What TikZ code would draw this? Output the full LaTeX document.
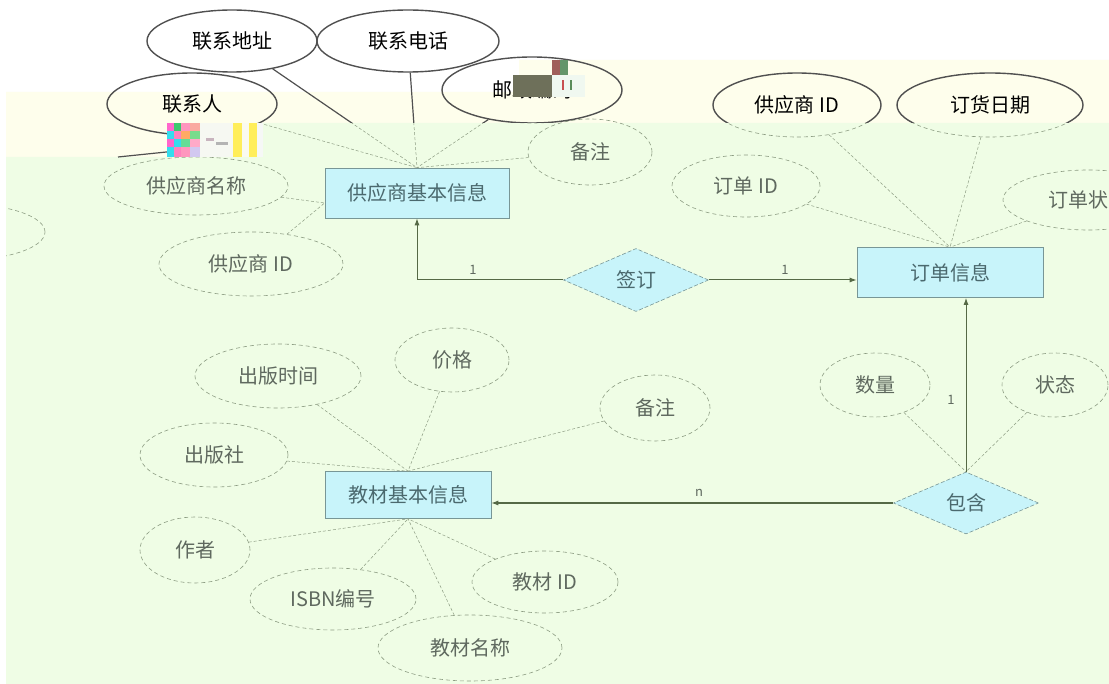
\documentclass[tikz,border=0pt]{standalone}
\usepackage{fontspec}
\newfontfamily\cjk{Noto Sans CJK SC}
\usetikzlibrary{shapes.geometric,arrows.meta}
\definecolor{creambg}{RGB}{254,254,236}
\definecolor{greenbg}{RGB}{239,253,229}
\definecolor{boxfill}{RGB}{200,244,250}
\definecolor{boxline}{RGB}{120,150,150}
\definecolor{faintline}{RGB}{140,156,130}
\definecolor{fainttext}{RGB}{95,105,95}
\definecolor{boxtext}{RGB}{75,105,110}
\definecolor{relline}{RGB}{85,105,70}
\definecolor{solidline}{RGB}{80,80,80}
\newcommand\drawtopparts{%
  \node[topell, minimum width=170pt, minimum height=62pt] (lxdz) at (232,41) {联系地址};
  \node[topell, minimum width=182pt, minimum height=62pt] (lxdh) at (408,41) {联系电话};
  \node[topell, minimum width=170pt, minimum height=62pt] (lxr) at (192,104) {联系人};
  \node[topell, minimum width=180pt, minimum height=66pt] (yb) at (532,90) {邮政编码};
  \node[topell, minimum width=168pt, minimum height=64pt] (gidb) at (797,105) {供应商 ID};
  \node[topell, minimum width=186pt, minimum height=64pt] (dhrq) at (990,105) {订货日期};
  \draw[topline] (lxdz) -- (sup.north);
  \draw[topline] (lxdh) -- (sup.north);
  \draw[topline] (lxr) -- (sup.north);
  \draw[topline] (yb) -- (sup.north);
  \draw[topline] (gidb) -- (ord.north);
  \draw[topline] (dhrq) -- (ord.north);
}
\begin{document}
\begin{tikzpicture}[x=1pt,y=-1pt,
  txt/.style={font=\cjk\fontsize{20}{24}\selectfont},
  attr/.style={ellipse, draw=faintline, line width=0.6pt, dash pattern=on 4pt off 3pt, inner sep=0pt, txt, text=fainttext},
  solidell/.style={ellipse, draw=solidline, line width=1.4pt, inner sep=0pt, txt, text=black},
  entity/.style={rectangle, draw=boxline, fill=boxfill, line width=0.7pt, inner sep=0pt, txt, text=boxtext},
  rel/.style={diamond, draw=boxline, fill=boxfill, line width=0.6pt, dash pattern=on 4pt off 2pt, inner sep=0pt, aspect=2.3, txt, text=boxtext},
  alink/.style={draw=faintline, line width=0.5pt, dash pattern=on 3pt off 2pt},
  slink/.style={draw=solidline, line width=1.2pt},
  rlink/.style={draw=relline, line width=1pt},
  tip/.style={-{Latex[length=7pt,width=5pt]}},
  card/.style={font=\cjk\fontsize{13}{15}\selectfont, text=fainttext, inner sep=1pt},
]
\useasboundingbox (0,0) rectangle (1109,684);
% backgrounds
\fill[white] (0,0) rectangle (1109,684);
\fill[creambg] (6,92) -- (519,92) -- (519,60) -- (1109,60) -- (1109,123) -- (262,123) -- (262,157) -- (6,157) -- cycle;
\fill[greenbg] (6,157) -- (262,157) -- (262,123) -- (1109,123) -- (1109,684) -- (6,684) -- cycle;

% entities and relationships
\node[entity, minimum width=184pt, minimum height=50pt] (sup) at (417,193) {供应商基本信息};
\node[entity, minimum width=186pt, minimum height=50pt] (ord) at (950,272.5) {订单信息};
\node[entity, minimum width=166pt, minimum height=47pt] (book) at (408,495) {教材基本信息};
\node[rel, minimum width=145pt, minimum height=63pt] (qd) at (636,280) {签订};
\node[rel, minimum width=145pt, minimum height=62pt] (bh) at (966,503) {包含};

% attributes (faint)
\begin{scope}
\clip (6,0) rectangle (1109,684);
\node[attr, minimum width=124pt, minimum height=66pt] (bza) at (590,152) {备注};
\node[attr, minimum width=184pt, minimum height=58pt] (gysmc) at (196,186) {供应商名称};
\node[attr, minimum width=184pt, minimum height=64pt] (gysid) at (251,264) {供应商 ID};
\node[attr, minimum width=164pt, minimum height=56pt] (leftell) at (-37,232) {};
\node[attr, minimum width=148pt, minimum height=62pt] (ddid) at (746,186) {订单 ID};
\node[attr, minimum width=170pt, minimum height=60pt] (ddzt) at (1088,200) {订单状态};
\node[attr, minimum width=110pt, minimum height=64pt] (sl) at (875,385) {数量};
\node[attr, minimum width=106pt, minimum height=64pt] (zt) at (1055,385) {状态};
\node[attr, minimum width=166pt, minimum height=64pt] (cbsj) at (278,376) {出版时间};
\node[attr, minimum width=114pt, minimum height=64pt] (jg) at (452,360) {价格};
\node[attr, minimum width=110pt, minimum height=66pt] (bzb) at (655,408) {备注};
\node[attr, minimum width=148pt, minimum height=64pt] (cbs) at (214,455) {出版社};
\node[attr, minimum width=110pt, minimum height=66pt] (zz) at (195,550) {作者};
\node[attr, minimum width=166pt, minimum height=62pt] (isbn) at (333,599) {ISBN编号};
\node[attr, minimum width=184pt, minimum height=66pt] (jcmc) at (470,648) {教材名称};
\node[attr, minimum width=146pt, minimum height=62pt] (jcid) at (545,582) {教材 ID};
\end{scope}

% attribute links
\draw[alink] (bza) -- (sup.north);
\draw[alink] (gysmc) -- ([yshift=-10pt]sup.west);
\draw[alink] (gysid) -- ([yshift=-10pt]sup.west);
\draw[alink] (ddid) -- (ord.north);
\draw[alink] (ddzt) -- (ord.north);
\draw[alink] (sl) -- (bh.north);
\draw[alink] (zt) -- (bh.north);
\draw[alink] (cbsj) -- (book.north);
\draw[alink] (jg) -- (book.north);
\draw[alink] (bzb) -- (book.north);
\draw[alink] (cbs) -- (book.north);
\draw[alink] (zz) -- (book.south);
\draw[alink] (isbn) -- (book.south);
\draw[alink] (jcmc) -- (book.south);
\draw[alink] (jcid) -- (book.south);

% relationship connectors
\draw[rlink, tip] (qd.west) -| (sup.south);
\draw[rlink, tip] (qd.east) -- (qd.east -| ord.west);
\draw[rlink, tip] (bh.north) -- (bh.north |- ord.south);
\draw[rlink, tip] (bh.west) -- (bh.west -| book.east);
\node[card] (ca) at (473,270) {1};
\node[card] (cb) at (785,270) {1};
\node[card] (cc) at (951,400) {1};
\node[card] (cd) at (699,493) {n};

% top parts: faint in the green zone
\begin{scope}[topell/.style={attr}, topline/.style={alink}]
\clip (6,157) -- (262,157) -- (262,123) -- (1109,123) -- (1109,684) -- (6,684) -- cycle;
\drawtopparts
\end{scope}
% top parts: solid in the white and cream zone
\begin{scope}[topell/.style={solidell}, topline/.style={slink}]
\clip (0,0) -- (1109,0) -- (1109,123) -- (262,123) -- (262,157) -- (0,157) -- cycle;
\drawtopparts
\end{scope}

% fragment of a solid line
\coordinate (fa) at (118,157);
\coordinate (fb) at (205,148);
\draw[slink] (fa) -- (fb);

% mosaic blocks (damaged areas)
\fill[RGB/.style={}, color={rgb,255:red,255;green,102;blue,204}] (167,123) rectangle (174,131);
\fill[color={rgb,255:red,51;green,221;blue,238}] (167,131) rectangle (174,139);
\fill[color={rgb,255:red,255;green,102;blue,204}] (167,139) rectangle (174,147);
\fill[color={rgb,255:red,51;green,221;blue,238}] (167,147) rectangle (174,157);
\fill[color={rgb,255:red,60;green,200;blue,110}] (174,123) rectangle (181,131);
\fill[color={rgb,255:red,255;green,130;blue,190}] (174,131) rectangle (181,139);
\fill[color={rgb,255:red,51;green,221;blue,238}] (174,139) rectangle (181,147);
\fill[color={rgb,255:red,255;green,130;blue,190}] (174,147) rectangle (181,157);
\fill[color={rgb,255:red,255;green,150;blue,190}] (181,123) rectangle (190,131);
\fill[color={rgb,255:red,255;green,170;blue,100}] (181,131) rectangle (190,139);
\fill[color={rgb,255:red,100;green,220;blue,150}] (181,139) rectangle (190,147);
\fill[color={rgb,255:red,255;green,150;blue,190}] (181,147) rectangle (190,157);
\fill[color={rgb,255:red,250;green,170;blue,160}] (190,123) rectangle (200,131);
\fill[color={rgb,255:red,120;green,220;blue,140}] (190,131) rectangle (200,139);
\fill[color={rgb,255:red,255;green,170;blue,200}] (190,139) rectangle (200,147);
\fill[color={rgb,255:red,210;green,200;blue,240}] (190,147) rectangle (200,157);
\fill[color={rgb,255:red,246;green,248;blue,242}] (200,123) rectangle (233,157);
\fill[color={rgb,255:red,200;green,180;blue,190}] (206,138) rectangle (214,141);
\fill[color={rgb,255:red,180;green,180;blue,180}] (216,142) rectangle (228,145);
\fill[color={rgb,255:red,255;green,238;blue,90}] (233,123) rectangle (242,157);
\fill[color={rgb,255:red,250;green,250;blue,240}] (242,123) rectangle (249,157);
\fill[color={rgb,255:red,255;green,238;blue,90}] (249,123) rectangle (257,157);
\fill[color={rgb,255:red,246;green,248;blue,246}] (257,123) rectangle (263,157);
% near the post-code ellipse
\fill[color={rgb,255:red,160;green,95;blue,90}] (552,60) rectangle (560,75);
\fill[color={rgb,255:red,100;green,150;blue,105}] (560,60) rectangle (568,75);
\fill[color={rgb,255:red,110;green,112;blue,90}] (513,75) rectangle (552,97);
\fill[color={rgb,255:red,240;green,248;blue,240}] (552,75) rectangle (585,97);
\fill[color={rgb,255:red,200;green,80;blue,80}] (562,80) rectangle (564,90);
\fill[color={rgb,255:red,90;green,140;blue,90}] (570,80) rectangle (572,90);
\end{tikzpicture}
\end{document}
